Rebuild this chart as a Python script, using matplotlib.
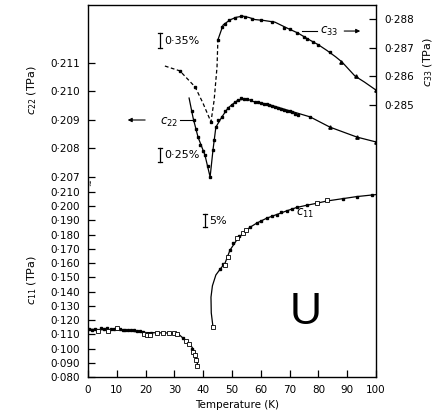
import matplotlib
matplotlib.use("Agg")
import matplotlib.pyplot as plt

# ---------------- data ----------------
# c33 (TPa): smooth curve, dashed below ~45 K
c33_dash_T = [26.7, 31.9, 37.2, 39.9, 42.7, 43.8, 44.8, 45.1]
c33_dash_v = [0.28636, 0.28619, 0.28563, 0.28507, 0.28441, 0.28517, 0.28633, 0.28727]
c33_line_T = [45.1, 46.9, 49.3, 51.5, 53.8, 56.0, 58.0, 61.0, 64.9, 69.4, 72.9, 76.4, 80.0, 83.0, 86.0, 88.2, 92.7, 96.0, 100.0]
c33_line_v = [0.28727, 0.28779, 0.28797, 0.28806, 0.28810, 0.28805, 0.28798, 0.28795, 0.28789, 0.28767, 0.28751, 0.28730, 0.28710, 0.28690, 0.28668, 0.28650, 0.28601, 0.28580, 0.28552]
c33_pts_T = [31.9, 37.2, 42.7, 45.1, 46.5, 47.5, 49.0, 51.0, 53.0, 54.5, 57.0, 60.0, 64.0, 68.0, 70.0, 72.5, 75.0, 76.0, 78.0, 80.0, 84.0]
c33_pts_v = [0.28619, 0.28563, 0.28441, 0.28727, 0.28772, 0.28784, 0.28797, 0.28804, 0.28810, 0.28808, 0.28800, 0.28796, 0.28790, 0.28770, 0.28764, 0.28750, 0.28738, 0.28730, 0.28720, 0.28710, 0.28685]
c33_tri_T = [88.0, 93.0, 100.0]
c33_tri_v = [0.28650, 0.28600, 0.28552]

# c22 (TPa)
c22_line_T = [35.1, 36.5, 38.2, 40.6, 42.4, 43.4, 44.4, 46.5, 48.6, 50.5, 52.1, 55.2, 57.3, 60.0, 63.2, 69.1, 77.1, 84.0, 93.4, 100.0]
c22_line_v = [0.20977, 0.20907, 0.20840, 0.20777, 0.20700, 0.20795, 0.20875, 0.20911, 0.20942, 0.20958, 0.20970, 0.20974, 0.20965, 0.20960, 0.20953, 0.20935, 0.20911, 0.20875, 0.20840, 0.20823]
c22_pts_T = [36.0, 36.8, 37.5, 38.2, 39.0, 39.8, 40.6, 41.5, 42.4, 43.4, 43.8, 44.4, 45.3, 46.5, 47.5, 48.6, 50.0, 51.0,
             52.1, 53.0, 54.0, 55.2, 56.5, 58.0, 59.0, 60.0, 61.0, 62.0, 63.0, 64.0, 65.0, 66.0, 67.0, 68.0, 69.0, 70.0,
             71.0, 72.0, 73.0, 77.0]
c22_pts_v = [0.20930, 0.20900, 0.20870, 0.20840, 0.20812, 0.20790, 0.20777, 0.20740, 0.20700, 0.20795, 0.20830, 0.20875,
             0.20900, 0.20912, 0.20930, 0.20942, 0.20952, 0.20962, 0.20970, 0.20976, 0.20972, 0.20974, 0.20970, 0.20963,
             0.20962, 0.20961, 0.20957, 0.20955, 0.20953, 0.20950, 0.20946, 0.20943, 0.20940, 0.20936, 0.20933, 0.20930,
             0.20927, 0.20922, 0.20918, 0.20911]
c22_tri_T = [84.0, 93.4, 100.0]
c22_tri_v = [0.20875, 0.20840, 0.20823]

# c11 (TPa), low-temperature branch
c11_low_line_T = [0.0, 10.0, 20.0, 30.0, 31.5, 33.7, 36.1, 37.2, 38.2]
c11_low_line_v = [0.1135, 0.1130, 0.1112, 0.1108, 0.1100, 0.1060, 0.1010, 0.0968, 0.0872]
c11_low_fill_T = [0.5, 1.5, 2.5, 4.5, 5.5, 6.5, 8.0, 9.0, 11.0, 12.0, 13.0, 14.0, 15.0, 16.0, 17.0, 18.0, 19.0, 22.0, 33.0, 36.0]
c11_low_fill_v = [0.1135, 0.1128, 0.1140, 0.1142, 0.1138, 0.1145, 0.1135, 0.1140, 0.1135, 0.1130, 0.1128, 0.1133,
                  0.1130, 0.1128, 0.1125, 0.1120, 0.1115, 0.1110, 0.1072, 0.1000]
c11_low_open_T = [3.5, 7.0, 10.0, 19.5, 20.5, 21.5, 24.0, 26.0, 28.0, 30.0, 31.0, 34.0, 35.0, 36.5, 37.0, 37.5, 38.0]
c11_low_open_v = [0.1122, 0.1120, 0.1143, 0.1105, 0.1098, 0.1098, 0.1112, 0.1110, 0.1112, 0.1112, 0.1105, 0.1050,
                  0.1030, 0.0975, 0.0955, 0.0920, 0.0880]

# c11 (TPa), high-temperature branch
c11_high_line_T = [43.4, 42.8, 42.7, 43.2, 44.4, 46.0, 47.6, 49.3, 51.6, 53.9, 56.2, 58.6, 62.0, 65.5, 69.0, 72.5, 75.9, 79.4, 82.9, 88.6, 93.3, 98.5, 100.0]
c11_high_line_v = [0.1151, 0.1250, 0.1360, 0.1440, 0.1516, 0.1560, 0.1600, 0.1690, 0.1760, 0.1810, 0.1850, 0.1880, 0.1914, 0.1940, 0.1966, 0.1990, 0.2005, 0.2019, 0.2035, 0.2052, 0.2066, 0.2077, 0.2080]
c11_high_fill_T = [46.0, 46.8, 49.3, 50.5, 52.5, 56.2, 58.6, 60.0, 62.0, 64.0, 65.5, 67.0, 69.0, 71.0, 72.5, 75.9, 88.6, 93.3, 98.5]
c11_high_fill_v = [0.1560, 0.1590, 0.1690, 0.1738, 0.1790, 0.1850, 0.1880, 0.1895, 0.1914, 0.1930, 0.1940, 0.1955, 0.1966, 0.1980, 0.1990, 0.2005, 0.2052, 0.2066, 0.2077]
c11_high_open_T = [43.4, 47.6, 48.5, 51.6, 53.9, 55.0, 79.4, 82.9]
c11_high_open_v = [0.1151, 0.1586, 0.1640, 0.1773, 0.1808, 0.1830, 0.2019, 0.2040]

x_ticks = [0, 10, 20, 30, 40, 50, 60, 70, 80, 90, 100]
c22_ticks = [0.207, 0.208, 0.209, 0.210, 0.211]
c11_ticks = [0.080, 0.090, 0.100, 0.110, 0.120, 0.130, 0.140, 0.150, 0.160, 0.170, 0.180, 0.190, 0.200, 0.210]
c33_ticks = [0.285, 0.286, 0.287, 0.288]

# I-shaped uncertainty bars: (T, low, high)
bar_035 = (25.0, 0.28700, 0.28750)   # on the c33 scale
bar_025 = (25.0, 0.20751, 0.20803)   # on the c22 scale
bar_5 = (40.5, 0.1851, 0.1942)       # on the c11 scale


def fmt(v):
    return ("%.3f" % v).replace(".", "\u00b7")


plt.rcParams["font.family"] = ["DejaVu Sans"]
W, H = 443, 415
fig = plt.figure(figsize=(W / 100, H / 100), dpi=100)
pos = [88 / W, (H - 377) / H, (376 - 88) / W, (377 - 5) / H]

# base axes carries the c11 scale and the temperature axis
ax = fig.add_axes(pos)
ax.set_xlim(0, 100)
ax.set_ylim(0.080, 0.080 + 372 / 1425)
ax.set_xticks(x_ticks)
ax.set_xticklabels([str(t) for t in x_ticks])
ax.set_yticks(c11_ticks)
ax.set_yticklabels([fmt(v) for v in c11_ticks])

# overlay for c22 (left, upper part)
ax22 = fig.add_axes(pos, frameon=False)
ax22.set_xlim(0, 100)
ax22.set_ylim(0.207 - 200 / 28500, 0.211 + 58 / 28500)
ax22.set_yticks(c22_ticks)
ax22.set_yticklabels([fmt(v) for v in c22_ticks])
ax22.xaxis.set_visible(False)

# overlay for c33 (right)
ax33 = fig.add_axes(pos, frameon=False)
ax33.set_xlim(0, 100)
ax33.set_ylim(0.288 - 358 / 28670, 0.288 + 14 / 28670)
ax33.yaxis.tick_right()
ax33.set_yticks(c33_ticks)
ax33.set_yticklabels([fmt(v) for v in c33_ticks])
ax33.xaxis.set_visible(False)

for a in (ax, ax22, ax33):
    a.tick_params(direction="in", length=5, width=0.9, labelsize=7.5, pad=6, colors="black")
    a.patch.set_visible(False)
for s in ax.spines.values():
    s.set_linewidth(1.0)

lk = dict(color="black", lw=0.9)
fill = dict(ls="none", marker="s", ms=1.8, color="black")
tri = dict(ls="none", marker="^", ms=2.4, color="black")
opn = dict(ls="none", marker="s", ms=2.5, mfc="white", mec="black", mew=0.6)
# c33
ax33.plot(c33_dash_T, c33_dash_v, ls=(0, (3, 2)), **lk)
ax33.plot(c33_line_T, c33_line_v, **lk)
ax33.plot(c33_pts_T, c33_pts_v, **fill)
ax33.plot(c33_tri_T, c33_tri_v, **tri)
# c22
ax22.plot(c22_line_T, c22_line_v, **lk)
ax22.plot(c22_pts_T, c22_pts_v, **fill)
ax22.plot(c22_tri_T, c22_tri_v, **tri)
# c11
ax.plot(c11_low_line_T, c11_low_line_v, **lk)
ax.plot(c11_low_fill_T, c11_low_fill_v, **fill)
ax.plot(c11_low_open_T, c11_low_open_v, **opn)
ax.plot(c11_high_line_T, c11_high_line_v, **lk)
ax.plot(c11_high_fill_T, c11_high_fill_v, **fill)
ax.plot(c11_high_open_T, c11_high_open_v, **opn)

# uncertainty bars
for a, (t, lo, hi), lab in ((ax33, bar_035, "0\u00b735%"), (ax22, bar_025, "0\u00b725%"), (ax, bar_5, "5%")):
    a.plot([t, t], [lo, hi], color="black", lw=0.9)
    a.plot([t - 0.7, t + 0.7], [lo, lo], color="black", lw=0.9)
    a.plot([t - 0.7, t + 0.7], [hi, hi], color="black", lw=0.9)
    a.text(t + 1.5, (lo + hi) / 2, lab, fontsize=8, va="center", ha="left")

# curve labels
ax22.annotate("", xy=(12.8, 0.2090), xytext=(20.8, 0.2090),
              arrowprops=dict(arrowstyle="-|>", color="black", lw=0.8, mutation_scale=6))
ax22.text(28.2, 0.20893, r"$c_{22}$", fontsize=8.5, ha="center", va="center")
ax22.plot([32.0, 36.4], [0.2090, 0.2090], color="black", lw=0.8)

ax33.plot([74.3, 79.5], [0.28758, 0.28758], color="black", lw=0.8)
ax33.text(83.7, 0.28755, r"$c_{33}$", fontsize=8.5, ha="center", va="center")
ax33.annotate("", xy=(95.5, 0.28758), xytext=(88.0, 0.28758),
              arrowprops=dict(arrowstyle="-|>", color="black", lw=0.8, mutation_scale=6))

ax.text(75.5, 0.1950, r"$c_{11}$", fontsize=8.5, ha="center", va="center")

# axis break mark on the left spine
fig.text(89 / W, 1 - 182 / H, "\u2248", rotation=90, fontsize=6, ha="center", va="center")

# big element symbol
fig.text(306 / W, 1 - 313 / H, "U", fontsize=32, family="Liberation Sans", ha="center", va="center")

# axis titles
fig.text(32 / W, 1 - 90 / H, r"$c_{22}$ (TPa)", rotation=90, fontsize=8, ha="center", va="center")
fig.text(32 / W, 1 - 280 / H, r"$c_{11}$ (TPa)", rotation=90, fontsize=8, ha="center", va="center")
fig.text(428 / W, 1 - 62 / H, r"$c_{33}$ (TPa)", rotation=90, fontsize=8, ha="center", va="center")
fig.text(237 / W, 1 - 405 / H, "Temperature (K)", fontsize=7.5, ha="center", va="center")

fig.savefig("out.png", dpi=100)
